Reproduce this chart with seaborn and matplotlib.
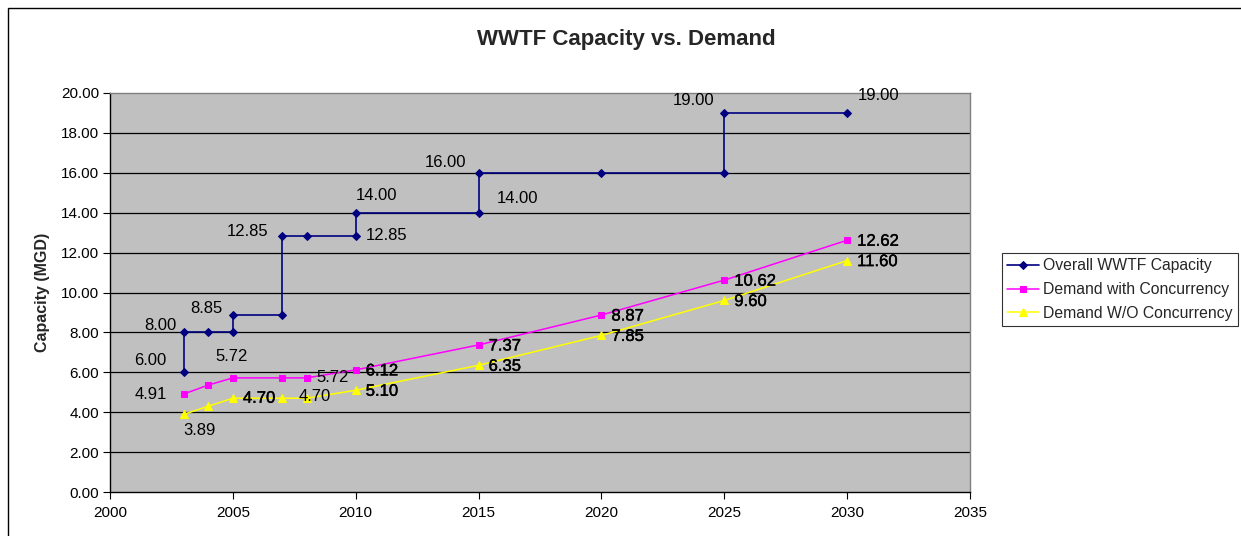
import matplotlib
matplotlib.use("Agg")
import matplotlib.pyplot as plt
import matplotlib.patheffects as pe
import seaborn as sns
import pandas as pd
from matplotlib.patches import Rectangle

# ---- data ----
cap_years = [2003, 2003, 2004, 2005, 2005, 2007, 2007, 2008, 2010, 2010, 2015, 2015, 2020, 2025, 2025, 2030]
cap_values = [6.00, 8.00, 8.00, 8.00, 8.85, 8.85, 12.85, 12.85, 12.85, 14.00, 14.00, 16.00, 16.00, 16.00, 19.00, 19.00]

dem_years = [2003, 2004, 2005, 2007, 2008, 2010, 2015, 2020, 2025, 2030]
dem_with = [4.91, 5.36, 5.72, 5.72, 5.72, 6.12, 7.37, 8.87, 10.62, 12.62]
dem_without = [3.89, 4.30, 4.70, 4.70, 4.70, 5.10, 6.35, 7.85, 9.60, 11.60]

series_names = ["Overall WWTF Capacity", "Demand with Concurrency", "Demand W/O Concurrency"]
x_ticks = [2000, 2005, 2010, 2015, 2020, 2025, 2030, 2035]
y_ticks = [0, 2, 4, 6, 8, 10, 12, 14, 16, 18, 20]

sns.set_theme(style="white")
plt.rcParams['font.family'] = ['Liberation Sans', 'DejaVu Sans']

fig = plt.figure(figsize=(12.41, 5.36), dpi=100)
ax = fig.add_axes([110/1241, 1-492/536, 860/1241, 399/536])
ax.set_facecolor("#C0C0C0")

df_cap = pd.DataFrame({"x": cap_years, "y": cap_values})
df_with = pd.DataFrame({"x": dem_years, "y": dem_with})
df_wo = pd.DataFrame({"x": dem_years, "y": dem_without})

sns.lineplot(data=df_cap, x="x", y="y", ax=ax, sort=False, estimator=None, color="#000080",
             marker="D", markersize=4.5, markeredgecolor="#000080", linewidth=1.2,
             label=series_names[0], zorder=5)
sns.lineplot(data=df_with, x="x", y="y", ax=ax, sort=False, estimator=None, color="#FF00FF",
             marker="s", markersize=5, markeredgecolor="#FF00FF", linewidth=1.1,
             label=series_names[1], zorder=5)
sns.lineplot(data=df_wo, x="x", y="y", ax=ax, sort=False, estimator=None, color="#FFFF00",
             marker="^", markersize=6, markeredgecolor="#FFFF00", linewidth=1.1,
             label=series_names[2], zorder=5)

ax.set_xlim(2000, 2035)
ax.set_ylim(0, 20)
ax.set_xticks(x_ticks)
ax.set_yticks(y_ticks)
ax.set_yticklabels([f"{v:.2f}" for v in y_ticks])
ax.set_xticklabels([str(v) for v in x_ticks])
for y in y_ticks[1:-1]:
    ax.axhline(y, color="black", linewidth=0.9, zorder=1)
ax.tick_params(axis="both", labelsize=11, direction="out", length=5, width=0.8,
               colors="black", left=True, bottom=True)
ax.tick_params(axis="y", pad=3)
ax.tick_params(axis="x", pad=5)
ax.set_xlabel("")
ax.set_ylabel("Capacity (MGD)", fontsize=11.5, fontweight="bold", labelpad=8)
for s in ["top", "right"]:
    ax.spines[s].set_color("#808080")
    ax.spines[s].set_linewidth(1)
for s in ["left", "bottom"]:
    ax.spines[s].set_color("black")
    ax.spines[s].set_linewidth(1)

fs = 12
heavy = [pe.withStroke(linewidth=0.3, foreground="black")]
def lab(x, y, t, dx, dy, ha="left", heavy_txt=False):
    ax.annotate(t, (x, y), xytext=(dx, -dy), textcoords="offset pixels", ha=ha, va="center",
                fontsize=fs, color="black", zorder=6,
                path_effects=heavy if heavy_txt else None)

# capacity labels (dx, dy in pixels; dy positive = down)
lab(2003, 6.00, "6.00", -17, -12, "right")
lab(2003, 8.00, "8.00", -7, -7, "right")
lab(2005, 8.85, "8.85", -10, -7, "right")
lab(2005, 8.00, "5.72", -1, 24, "center")
lab(2007, 12.85, "12.85", -14, -4, "right")
lab(2010, 12.85, "12.85", 10, 0, "left")
lab(2010, 14.00, "14.00", 0, -17, "left")
lab(2015, 16.00, "16.00", -12, -10, "right")
lab(2015, 14.00, "14.00", 18, -14, "left")
lab(2025, 19.00, "19.00", -10, -12, "right")
lab(2030, 19.00, "19.00", 11, -17, "left")

# demand with concurrency labels
lab(2003, 4.91, "4.91", -17, 0, "right")
lab(2008, 5.72, "5.72", 10, 0, "left")
for x, y, t in zip(dem_years[5:], dem_with[5:], ["6.12", "7.37", "8.87", "10.62", "12.62"]):
    lab(x, y, t, 10, 1, "left", heavy_txt=True)
# demand without concurrency labels
lab(2003, 3.89, "3.89", 0, 16, "left")
lab(2005, 4.70, "4.70", 10, 0, "left", heavy_txt=True)
lab(2008, 4.70, "4.70", -8, -2, "left")
for x, y, t in zip(dem_years[5:], dem_without[5:], ["5.10", "6.35", "7.85", "9.60", "11.60"]):
    lab(x, y, t, 10, 1, "left", heavy_txt=True)

fig.text(626/1241, 1-39/536, "WWTF Capacity vs. Demand", ha="center", va="center",
         fontsize=16, fontweight="bold")

leg = ax.legend(loc="upper left", bbox_to_anchor=(1002/1241, 1-253/536),
                bbox_transform=fig.transFigure, frameon=True, fancybox=False,
                fontsize=11.3, handlelength=2.0, borderpad=0.35, labelspacing=0.55,
                handletextpad=0.25, borderaxespad=0)
leg.get_frame().set_edgecolor("black")
leg.get_frame().set_linewidth(0.8)

fig.patches.append(Rectangle((8/1241, -0.01), 1.1, 1-8/536 + 0.01, transform=fig.transFigure,
                             fill=False, edgecolor="black", linewidth=1))

fig.savefig("out.png", dpi=100)
